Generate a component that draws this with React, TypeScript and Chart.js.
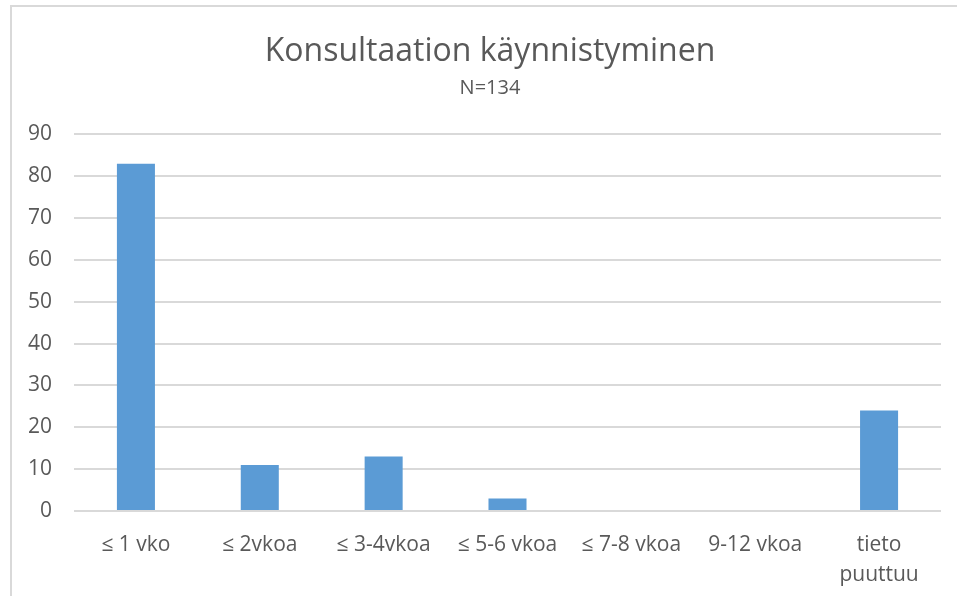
import React, { useEffect, useRef } from "react";
import { Chart, registerables } from "chart.js";

Chart.register(...registerables);

const TITLE = "Konsultaation käynnistyminen";
const SUBTITLE = "N=134";
const CATEGORIES: (string | string[])[] = [
  "≤ 1 vko",
  "≤ 2vkoa",
  "≤ 3-4vkoa",
  "≤ 5-6 vkoa",
  "≤ 7-8 vkoa",
  "9-12 vkoa",
  ["tieto", "puuttuu"],
];
const VALUES = [83, 11, 13, 3, 0, 0, 24];
const Y_MIN = 0;
const Y_MAX = 90;
const Y_STEP = 10;

const TEXT = "#595959";
const GRID = "#d9d9d9";
const BAR = "#5b9bd5";
const FONT = "'Open Sans', sans-serif";

const framePlugin = {
  id: "frame",
  beforeDraw(chart: any) {
    const ctx = chart.ctx;
    ctx.save();
    ctx.fillStyle = "#ffffff";
    ctx.fillRect(0, 0, chart.width, chart.height);
    ctx.fillStyle = GRID;
    ctx.fillRect(10, 5, chart.width, 2);
    ctx.fillRect(10, 5, 2, chart.height);
    ctx.restore();
  },
};

export default function App() {
  const ref = useRef<HTMLCanvasElement>(null);
  useEffect(() => {
    if (!ref.current) return;
    const chart = new Chart(ref.current, {
      type: "bar",
      data: {
        labels: CATEGORIES as any,
        datasets: [
          {
            data: VALUES,
            backgroundColor: BAR,
            borderWidth: 0,
            categoryPercentage: 1,
            barPercentage: 0.307,
          },
        ],
      },
      plugins: [framePlugin],
      options: {
        animation: false,
        responsive: false,
        devicePixelRatio: 1,
        layout: { padding: { left: 10, right: 0, top: 0, bottom: 0 } },
        plugins: {
          legend: { display: false },
          tooltip: { enabled: false },
          title: {
            display: true,
            text: TITLE,
            color: TEXT,
            font: { family: FONT, size: 32, weight: "normal", lineHeight: 1.2 },
            padding: { top: 33, bottom: 5 },
          },
          subtitle: {
            display: true,
            text: SUBTITLE,
            color: TEXT,
            font: { family: FONT, size: 20, weight: "normal", lineHeight: 1.2 },
            padding: { top: 0, bottom: 34 },
          },
        },
        scales: {
          x: {
            grid: { display: false },
            border: { display: false },
            ticks: {
              color: TEXT,
              font: { family: FONT, size: 21, lineHeight: "30px" as any },
              padding: 11,
              maxRotation: 0,
              autoSkip: false,
            },
            afterFit: (s: any) => {
              s.height = 85;
            },
          },
          y: {
            position: "left",
            min: Y_MIN,
            max: Y_MAX,
            grid: { color: GRID, lineWidth: 2, drawTicks: false },
            border: { display: false },
            ticks: {
              stepSize: Y_STEP,
              color: TEXT,
              font: { family: FONT, size: 21 },
              padding: 22,
            },
            afterFit: (s: any) => {
              s.width = 64;
            },
          },
          y2: {
            position: "right",
            display: true,
            grid: { display: false },
            border: { display: false },
            ticks: { display: false },
            afterFit: (s: any) => {
              s.width = 29;
            },
          },
        },
      },
    });
    return () => chart.destroy();
  }, []);
  return (
    <div style={{ position: "fixed", left: 0, top: 0, width: 957, height: 596, overflow: "hidden" }}>
      <canvas ref={ref} width={970} height={596} style={{ width: 970, height: 596, display: "block" }} />
    </div>
  );
}
